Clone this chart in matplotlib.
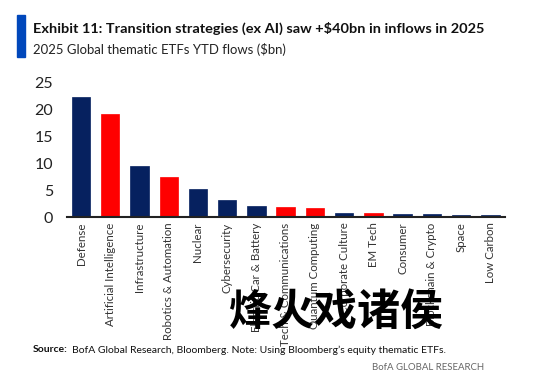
import matplotlib
matplotlib.use("Agg")
import matplotlib.pyplot as plt
from matplotlib.patches import Rectangle

categories = ["Defense", "Artificial Intelligence", "Infrastructure", "Robotics & Automation",
              "Nuclear", "Cybersecurity", "Electric Car & Battery", "Tech & Communications",
              "Quantum Computing", "Corporate Culture", "EM Tech", "Consumer",
              "Blockchain & Crypto", "Space", "Low Carbon"]
values = [22.2, 19.1, 9.4, 7.4, 5.2, 3.1, 2.1, 1.9, 1.75, 0.8, 0.7, 0.6, 0.55, 0.45, 0.3]
is_transition = [False, True, False, True, False, False, False, True, True, False, True,
                 False, False, False, False]
yticks = [0, 5, 10, 15, 20, 25]

NAVY = "#06215f"
RED = "#ff0000"
FONT = ["Lato", "DejaVu Sans"]
plt.rcParams["font.family"] = FONT

fig = plt.figure(figsize=(5.5, 3.83), dpi=100)
ax = fig.add_axes([67/550, 1-217/383, (505-67)/550, (217-82.3)/383])

colors = [RED if t else NAVY for t in is_transition]
x = list(range(len(categories)))
ax.bar(x, values, width=0.63, color=colors, edgecolor=colors, linewidth=0.5)
ax.set_xlim(-0.48, len(categories) - 0.5)
ax.set_ylim(0, 25)
ax.set_yticks(yticks)
ax.set_yticklabels([str(v) for v in yticks], fontsize=11.5, color="#222222")
ax.set_xticks(x)
ax.set_xticklabels(categories, rotation=90, fontsize=8.3, color="#333333", va="top", ha="center")
ax.tick_params(axis="both", length=0)
ax.tick_params(axis="y", pad=10)
ax.tick_params(axis="x", pad=4)
for s in ["top", "right", "left"]:
    ax.spines[s].set_visible(False)
ax.spines["bottom"].set_linewidth(1.5)
ax.spines["bottom"].set_color("#222222")

# title block
fig.patches.append(Rectangle((17/550, 1-57/383), 8/550, 42/383, transform=fig.transFigure,
                             color="#0047bb", zorder=5))
title = fig.text(33/550, 1-28/383, "Exhibit 11: Transition strategies (ex AI) saw +$40bn in inflows in 2025",
                 fontsize=12, fontweight="bold", color="#111111", va="center", ha="left")
subtitle = fig.text(33/550, 1-50/383, "2025 Global thematic ETFs YTD flows ($bn)",
                    fontsize=11.5, color="#222222", va="center", ha="left")

# watermark
fig.text(336/550, 1-312/383, "烽火戏诸侯", fontsize=31, fontweight="bold",
         family=["Noto Sans CJK SC", "DejaVu Sans"], color="black", ha="center", va="center",
         zorder=10)

# source
src_b = fig.text(33/550, 1-350/383, "Source:", fontsize=9, fontweight="bold", color="#111111",
                 va="center", ha="left")
src = fig.text(94/550, 1-350/383, "BofA Global Research, Bloomberg. Note: Using Bloomberg’s equity thematic ETFs.",
               fontsize=9, color="#111111", va="center", ha="left")
brand = fig.text(484/550, 1-367/383, "BofA GLOBAL RESEARCH", fontsize=9, color="#666666",
                 va="center", ha="right")

# fit text widths to the reference layout
fig.canvas.draw()
r = fig.canvas.get_renderer()
for t, w in [(title, 446), (subtitle, 254), (brand, 113)]:
    cur = t.get_window_extent(r).width
    t.set_fontsize(t.get_fontsize() * w / cur)
# source line: common size, fit combined width
gap = 4
wb = src_b.get_window_extent(r).width
ws = src.get_window_extent(r).width
k = (414 - gap) / (wb + ws)
src_b.set_fontsize(9 * k)
src.set_fontsize(9 * k)
fig.canvas.draw()
wb = src_b.get_window_extent(r).width
src.set_x((33 + wb + gap) / 550)

fig.savefig("out.png", dpi=100)
